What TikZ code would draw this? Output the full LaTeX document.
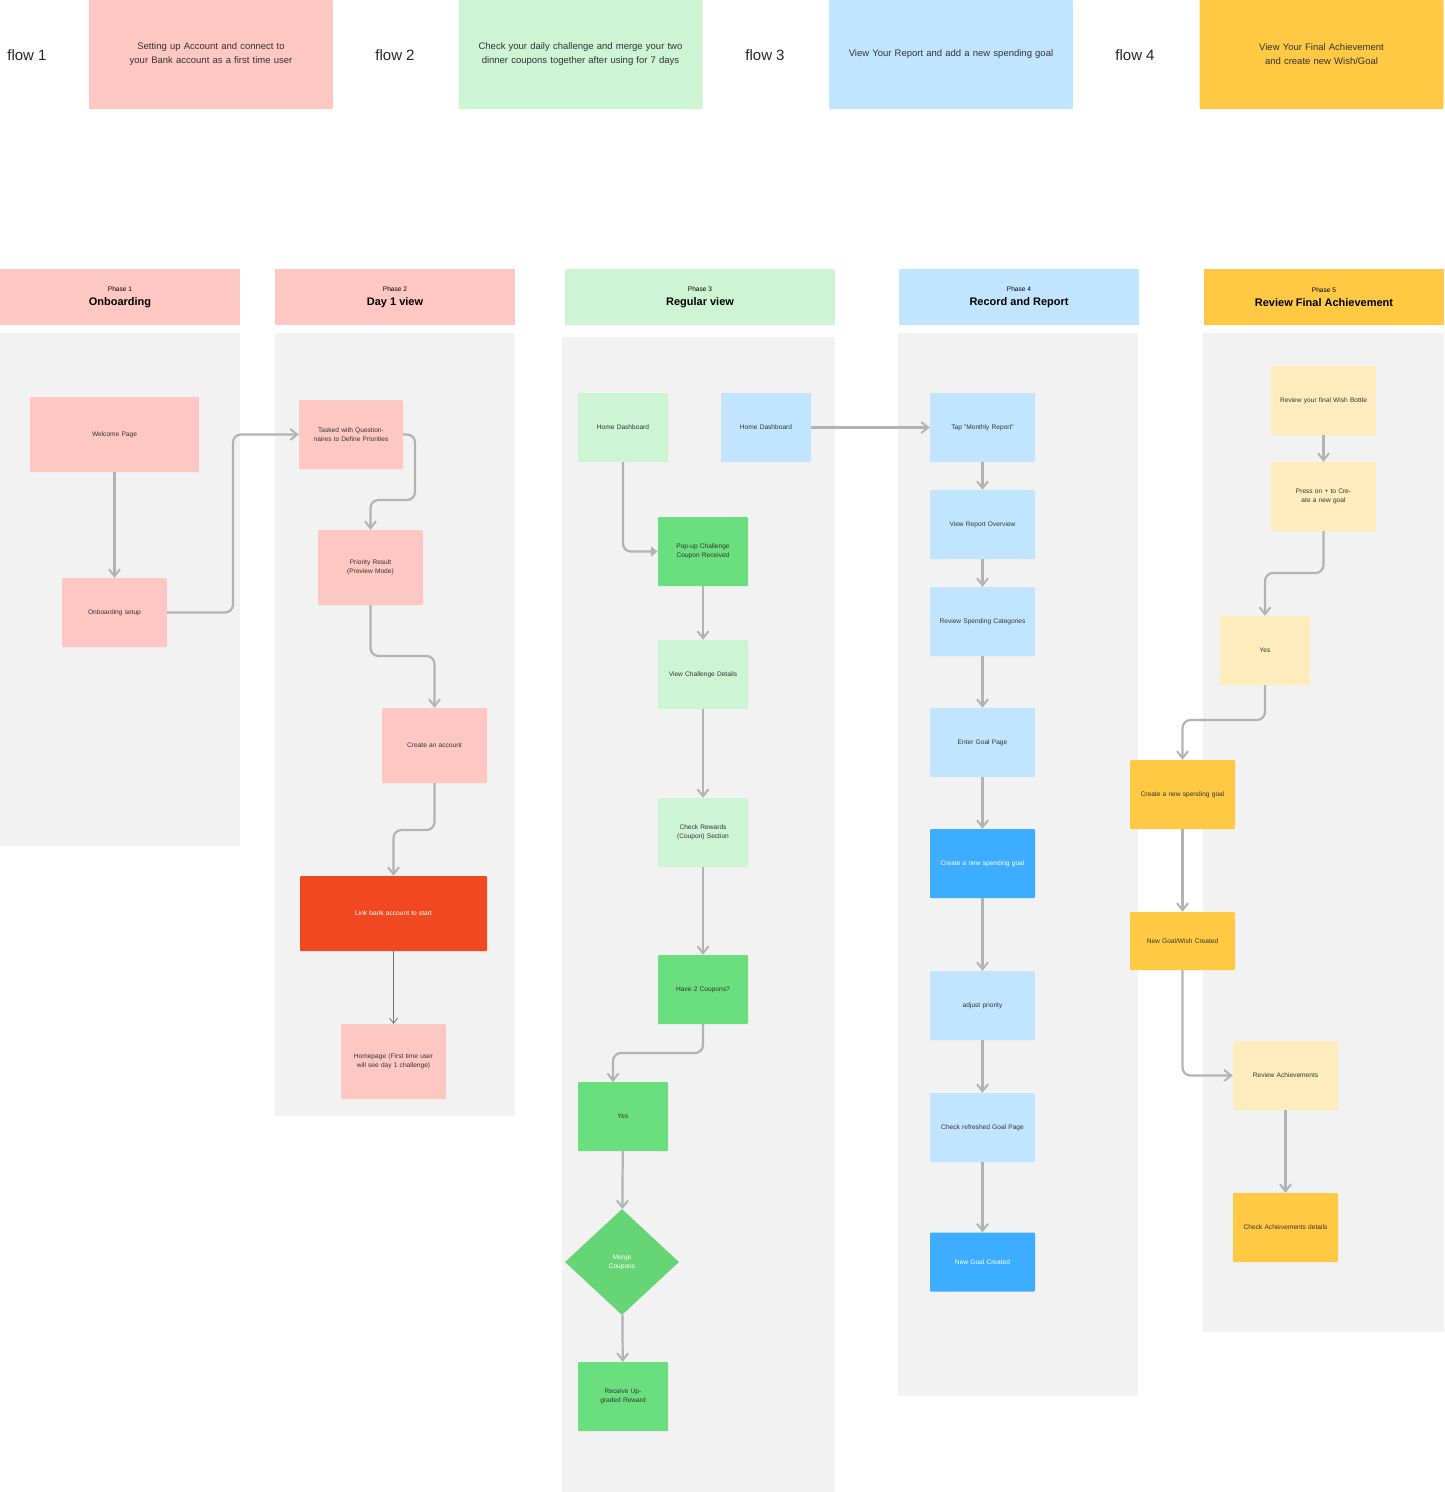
\documentclass[tikz,border=0pt]{standalone}
\usepackage{fontspec}
\setmainfont{Liberation Sans}
\usetikzlibrary{arrows.meta,shapes.geometric}
\definecolor{pinkL}{HTML}{FFC7C2}
\definecolor{greenL}{HTML}{CDF4D3}
\definecolor{blueL}{HTML}{C2E5FF}
\definecolor{yel}{HTML}{FFC943}
\definecolor{yelL}{HTML}{FFECBD}
\definecolor{orng}{HTML}{F24822}
\definecolor{greenD}{HTML}{6BDE7E}
\definecolor{greenM}{HTML}{66D575}
\definecolor{blueD}{HTML}{3DADFF}
\definecolor{panel}{HTML}{F2F2F2}
\definecolor{arr}{HTML}{B3B3B3}
\begin{document}
\begin{tikzpicture}[x=1pt,y=-1pt,
  box/.style={draw=none,rounded corners=1pt,align=center,font=\fontsize{6.6}{9}\selectfont,text=black!80,inner sep=1pt},
  b/.style args={#1/#2/#3}{box,fill=#1,minimum width=#2,minimum height=#3,text width=#2-12},
  con/.style={draw=arr,line width=2.2pt,rounded corners=8pt,-{Straight Barb[length=7pt,width=11pt,line width=2pt]}},
  flow/.style={font=\fontsize{15}{18}\selectfont,text=black!85},
  top/.style={box,minimum width=244,minimum height=109,text width=230,font=\fontsize{9.5}{14}\selectfont},
  ph/.style={rectangle,minimum width=240,minimum height=56,align=center,inner sep=0pt}]
\useasboundingbox (0,0) rectangle (1444,1492);
% top row
\node[flow] (f1) at (27,55) {flow 1};
\node[flow] (f2) at (395,55) {flow 2};
\node[flow] (f3) at (765,55) {flow 3};
\node[flow] (f4) at (1135,55) {flow 4};
\node[top,fill=pinkL] (t1) at (211,54.5) {Setting up Account and connect to your Bank account as a first time user};
\node[top,fill=greenL] (t2) at (580.5,54.5) {Check your daily challenge and merge your two dinner coupons together after using for 7 days};
\node[top,fill=blueL] (t3) at (951,54.5) {View Your Report and add a new spending goal};
\node[top,fill=yel] (t4) at (1321.5,54.5) {View Your Final Achievement and create new Wish/Goal};
% panels
\fill[panel] (0,333) rectangle (240,846);
\fill[panel] (275,333) rectangle (515,1116);
\fill[panel] (562,337) rectangle (835,1492);
\fill[panel] (898,333) rectangle (1138,1396);
\fill[panel] (1203,333) rectangle (1444,1332);
% phase headers
\newcommand{\phtxt}[2]{{\fontsize{6.6}{8}\selectfont #1}\\[2pt]{\fontsize{11}{13}\bfseries\selectfont #2}}
\node[ph,fill=pinkL] (p1) at (120,297) {\phtxt{Phase 1}{Onboarding}};
\node[ph,fill=pinkL] (p2) at (395,297) {\phtxt{Phase 2}{Day 1 view}};
\node[ph,fill=greenL,minimum width=270] (p3) at (700,297) {\phtxt{Phase 3}{Regular view}};
\node[ph,fill=blueL] (p4) at (1019,297) {\phtxt{Phase 4}{Record and Report}};
\node[ph,fill=yel] (p5) at (1324,297) {\phtxt{Phase 5}{Review Final Achievement}};
% phase 1
\node[b=pinkL/169/75] (wel) at (114.5,434.5) {Welcome Page};
\node[b=pinkL/105/69] (onb) at (114.5,612.5) {Onboarding setup};
% phase 2
\node[b=pinkL/104/69] (task) at (351,434.5) {Tasked with Questionnaires to Define Priorities};
\node[b=pinkL/105/75] (prio) at (370.5,567.5) {Priority Result\\(Preview Mode)};
\node[b=pinkL/105/75] (acc) at (434.5,745.5) {Create an account};
\node[b=orng/187/75,text=white] (link) at (393.5,913.5) {Link bank account to start};
\node[b=pinkL/105/75] (home) at (393.5,1061.5) {Homepage (First time user will see day 1 challenge)};
% phase 3
\node[b=greenL/90/69] (hd1) at (623,427.5) {Home Dashboard};
\node[b=blueL/90/69] (hd2) at (766,427.5) {Home Dashboard};
\node[b=greenD/90/69] (pop) at (703,551.5) {Pop-up Challenge Coupon Received};
\node[b=greenL/90/69] (vcd) at (703,674.5) {View Challenge Details};
\node[b=greenL/90/69] (crs) at (703,832.5) {Check Rewards (Coupon) Section};
\node[b=greenD/90/69] (h2c) at (703,989.5) {Have 2 Coupons?};
\node[b=greenD/90/69] (yes3) at (623,1116.5) {Yes};
\node[diamond,fill=greenM,draw=none,minimum width=114,minimum height=106,inner sep=0pt,align=center,text=white,font=\fontsize{6.6}{9}\selectfont] (mer) at (622,1262) {Merge\\Coupons};
\node[b=greenD/90/69] (rec) at (623,1396.5) {Receive Upgraded Reward};
% phase 4
\node[b=blueL/105/69] (tap) at (982.5,427.5) {Tap "Monthly Report"};
\node[b=blueL/105/69] (vro) at (982.5,524.5) {View Report Overview};
\node[b=blueL/105/69] (rsc) at (982.5,621.5) {Review Spending Categories};
\node[b=blueL/105/69] (egp) at (982.5,742.5) {Enter Goal Page};
\node[b=blueD/105/69,text=white] (cns) at (982.5,863.5) {Create a new spending goal};
\node[b=blueL/105/69] (adj) at (982.5,1005.5) {adjust priority};
\node[b=blueL/105/69] (crg) at (982.5,1127.5) {Check refreshed Goal Page};
\node[b=blueD/105/59,text=white] (ngc) at (982.5,1262) {New Goal Created};
% phase 5
\node[b=yelL/105/69] (rfw) at (1323.5,400.5) {Review your final Wish Bottle};
\node[b=yelL/105/69] (pre) at (1323.5,496.5) {Press on + to Create a new goal};
\node[b=yelL/90/69] (yes5) at (1265,650.5) {Yes};
\node[b=yel/105/69] (cng) at (1182.5,794.5) {Create a new spending goal};
\node[b=yel/105/58] (ngw) at (1182.5,941) {New Goal/Wish Created};
\node[b=yelL/105/69] (rva) at (1285.5,1075.5) {Review Achievements};
\node[b=yel/105/69] (cad) at (1285.5,1227.5) {Check Achievements details};
% connectors
\draw[con] (wel) -- (onb);
\draw[con] (onb.east) -- (233,612.5) -- (233,434.5) -- (task.west);
\draw[con] (task.east) -- (415,434.5) -- (415,500) -- (370.5,500) -- (prio.north);
\draw[con] (prio.south) -- (370.5,656) -- (434.5,656) -- (acc.north);
\draw[con] (acc.south) -- (434.5,830) -- (393.5,830) -- (link.north);
\draw[draw=black!55,line width=0.8pt,-{Straight Barb[length=5pt,width=8pt]}] (link) -- (home);
\draw[con,-{Triangle[length=7pt,width=10pt]}] (hd1.south) -- (623,551.5) -- (pop.west);
\draw[con] (pop) -- (vcd);
\draw[con] (vcd) -- (crs);
\draw[con] (crs) -- (h2c);
\draw[con] (h2c.south) -- (703,1053) -- (613,1053) -- (613,1082);
\draw[con] (yes3) -- (mer);
\draw[con] (mer) -- (rec);
\draw[con] (hd2) -- (tap);
\draw[con] (tap) -- (vro);
\draw[con] (vro) -- (rsc);
\draw[con] (rsc) -- (egp);
\draw[con] (egp) -- (cns);
\draw[con] (cns) -- (adj);
\draw[con] (adj) -- (crg);
\draw[con] (crg) -- (ngc);
\draw[con] (rfw) -- (pre);
\draw[con] (pre.south) -- (1323.5,573) -- (1265,573) -- (yes5.north);
\draw[con] (yes5.south) -- (1265,720) -- (1182.5,720) -- (cng.north);
\draw[con] (cng) -- (ngw);
\draw[con] (ngw.south) -- (1182.5,1075.5) -- (rva.west);
\draw[con] (rva) -- (cad);
\end{tikzpicture}
\end{document}
